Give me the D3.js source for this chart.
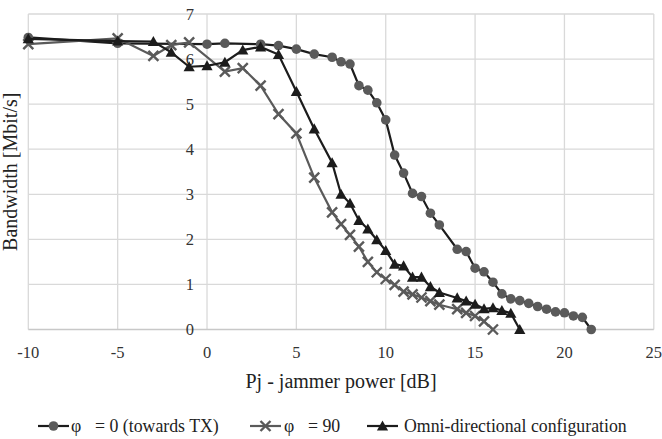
<!DOCTYPE html>
<html>
<head>
<meta charset="utf-8">
<script src="https://cdnjs.cloudflare.com/ajax/libs/d3/7.8.5/d3.min.js"></script>
<style>
  body { margin: 0; background: #fff; }
</style>
</head>
<body>
<svg id="chart" width="662" height="439"></svg>
<script>
"use strict";

// phi = 0 (towards TX)
var xPhi0 = [-10, -5, 0, 1, 3, 4, 5, 6, 7, 7.5, 8, 8.5, 9, 9.5, 10, 10.5, 11, 11.5, 12, 12.5, 13,
             14, 14.5, 15, 15.5, 16, 16.5, 17, 17.5, 18, 18.5, 19, 19.5, 20, 20.5, 21, 21.5],
    yPhi0 = [6.48, 6.35, 6.33, 6.35, 6.33, 6.3, 6.22, 6.11, 6.04, 5.94, 5.89, 5.41, 5.31, 5.03, 4.65, 3.87, 3.47, 3.02, 2.95, 2.58, 2.32,
             1.78, 1.73, 1.36, 1.28, 1.05, 0.79, 0.68, 0.64, 0.58, 0.51, 0.45, 0.39, 0.37, 0.30, 0.27, 0.0];

// phi = 90
var xPhi90 = [-10, -5, -3, -2, -1, 1, 2, 3, 4, 5, 6, 7, 7.5, 8, 8.5, 9, 9.5, 10, 10.5, 11, 11.5, 12, 12.5, 13,
              14, 14.5, 15, 15.5, 16],
    yPhi90 = [6.33, 6.46, 6.07, 6.31, 6.37, 5.72, 5.8, 5.41, 4.78, 4.35, 3.37, 2.6, 2.34, 2.1, 1.84, 1.5, 1.27, 1.12, 0.99, 0.84, 0.78, 0.71, 0.63, 0.55,
              0.45, 0.37, 0.3, 0.18, 0.0];

// omni-directional
var xOmni = [-10, -5, -3, -2, -1, 0, 1, 2, 3, 4, 5, 6, 7, 7.5, 8, 8.5, 9, 9.5, 10, 10.5, 11, 11.5, 12, 12.5, 13,
             14, 14.5, 15, 15.5, 16, 16.5, 17, 17.5],
    yOmni = [6.45, 6.4, 6.39, 6.15, 5.83, 5.85, 5.93, 6.2, 6.27, 6.1, 5.28, 4.45, 3.7, 3.0, 2.8, 2.42, 2.23, 1.99, 1.75, 1.45, 1.41, 1.16, 1.16, 0.95, 0.82,
             0.7, 0.63, 0.56, 0.46, 0.48, 0.42, 0.36, 0.0];

var xTicks = [-10, -5, 0, 5, 10, 15, 20, 25],
    yTicks = [0, 1, 2, 3, 4, 5, 6, 7],
    // symbol part and rest of each legend label (Excel leaves a wide gap after phi)
    legendSymbols = ["\u03c6", "\u03c6", ""],
    legendLabels = ["= 0 (towards TX)", "= 90", "Omni-directional configuration"];

var plotLeft = 28.3,
    plotRight = 653.8,
    plotTop = 14,
    plotBottom = 329.5,
    fontFamily = "'Liberation Serif'",
    gridColour = "#d9d9d9",
    darkColour = "#1c1c1c",
    greyColour = "#5a5a5a";

var svg = d3.select("#chart");

var x = d3.scaleLinear().domain([-10, 25]).range([plotLeft, plotRight]),
    y = d3.scaleLinear().domain([0, 7]).range([plotBottom, plotTop]);

// gridlines
svg.append("g")
    .selectAll("line")
    .data(xTicks)
    .enter().append("line")
    .attr("x1", function(d) { return x(d); })
    .attr("x2", function(d) { return x(d); })
    .attr("y1", plotTop)
    .attr("y2", plotBottom)
    .attr("stroke", gridColour)
    .attr("stroke-width", 1.3);

svg.append("g")
    .selectAll("line")
    .data(yTicks)
    .enter().append("line")
    .attr("x1", plotLeft)
    .attr("x2", plotRight)
    .attr("y1", function(d) { return y(d); })
    .attr("y2", function(d) { return y(d); })
    .attr("stroke", function(d) { return d === 0 ? "#c8c8c8" : gridColour; })
    .attr("stroke-width", 1.3);

// tick labels
svg.append("g")
    .selectAll("text")
    .data(xTicks)
    .enter().append("text")
    .attr("x", function(d) { return x(d); })
    .attr("y", plotBottom + 28)
    .attr("text-anchor", "middle")
    .style("font-family", fontFamily)
    .attr("font-size", 16.5)
    .attr("fill", "#333")
    .text(function(d) { return d; });

svg.append("g")
    .selectAll("text")
    .data(yTicks)
    .enter().append("text")
    .attr("x", x(0) - 13)
    .attr("y", function(d) { return y(d) + 5.5; })
    .attr("text-anchor", "end")
    .style("font-family", fontFamily)
    .attr("font-size", 16.5)
    .attr("fill", "#333")
    .text(function(d) { return d; });

// axis titles
svg.append("text")
    .attr("x", (plotLeft + plotRight) / 2)
    .attr("y", plotBottom + 58)
    .attr("text-anchor", "middle")
    .style("font-family", fontFamily)
    .attr("font-size", 20)
    .attr("fill", "#222")
    .text("Pj - jammer power [dB]");

svg.append("text")
    .attr("transform", "translate(17," + ((plotTop + plotBottom) / 2) + ") rotate(-90)")
    .attr("text-anchor", "middle")
    .style("font-family", fontFamily)
    .attr("font-size", 20)
    .attr("fill", "#222")
    .text("Bandwidth [Mbit/s]");

var line = d3.line()
    .x(function(d) { return x(d[0]); })
    .y(function(d) { return y(d[1]); });

var zip = function(xs, ys) {
    return xs.map(function(v, i) { return [v, ys[i]]; });
};

var drawCircle = function(g, cx, cy) {
    g.append("circle")
        .attr("cx", cx)
        .attr("cy", cy)
        .attr("r", 4.8)
        .attr("fill", greyColour);
};

var drawCross = function(g, cx, cy) {
    var s = 5;
    g.append("path")
        .attr("d", "M" + (cx - s) + "," + (cy - s) + "L" + (cx + s) + "," + (cy + s) +
              "M" + (cx - s) + "," + (cy + s) + "L" + (cx + s) + "," + (cy - s))
        .attr("stroke", greyColour)
        .attr("stroke-width", 2.4)
        .attr("fill", "none");
};

var drawTriangle = function(g, cx, cy) {
    var s = 5.6;
    g.append("path")
        .attr("d", "M" + cx + "," + (cy - s) + "L" + (cx + s) + "," + (cy + s * 0.8) +
              "L" + (cx - s) + "," + (cy + s * 0.8) + "Z")
        .attr("fill", darkColour);
};

var series = [
    { pts: zip(xPhi0, yPhi0), stroke: darkColour, marker: drawCircle },
    { pts: zip(xPhi90, yPhi90), stroke: greyColour, marker: drawCross },
    { pts: zip(xOmni, yOmni), stroke: darkColour, marker: drawTriangle }
];

series.forEach(function(s) {
    var g = svg.append("g");
    g.append("path")
        .datum(s.pts)
        .attr("d", line)
        .attr("fill", "none")
        .attr("stroke", s.stroke)
        .attr("stroke-width", 2.2);
    s.pts.forEach(function(p) {
        s.marker(g, x(p[0]), y(p[1]));
    });
});

// legend
var legendY = 426,
    legendItems = [
        { lx: 38, tx: 71 },
        { lx: 250, tx: 284 },
        { lx: 367, tx: 404 }
    ];

legendItems.forEach(function(item, i) {
    var g = svg.append("g");
    g.append("line")
        .attr("x1", item.lx)
        .attr("x2", item.lx + 31)
        .attr("y1", legendY)
        .attr("y2", legendY)
        .attr("stroke", series[i].stroke)
        .attr("stroke-width", 2.2);
    series[i].marker(g, item.lx + 15.5, legendY);
    var t = g.append("text")
        .attr("y", legendY + 5.5)
        .style("font-family", fontFamily)
        .attr("font-size", 17.8)
        .attr("fill", "#222");
    if (legendSymbols[i]) {
        t.append("tspan").attr("x", item.tx).text(legendSymbols[i]);
        t.append("tspan").attr("x", item.tx + 24).text(legendLabels[i]);
    } else {
        t.append("tspan").attr("x", item.tx).text(legendLabels[i]);
    }
});
</script>
</body>
</html>
